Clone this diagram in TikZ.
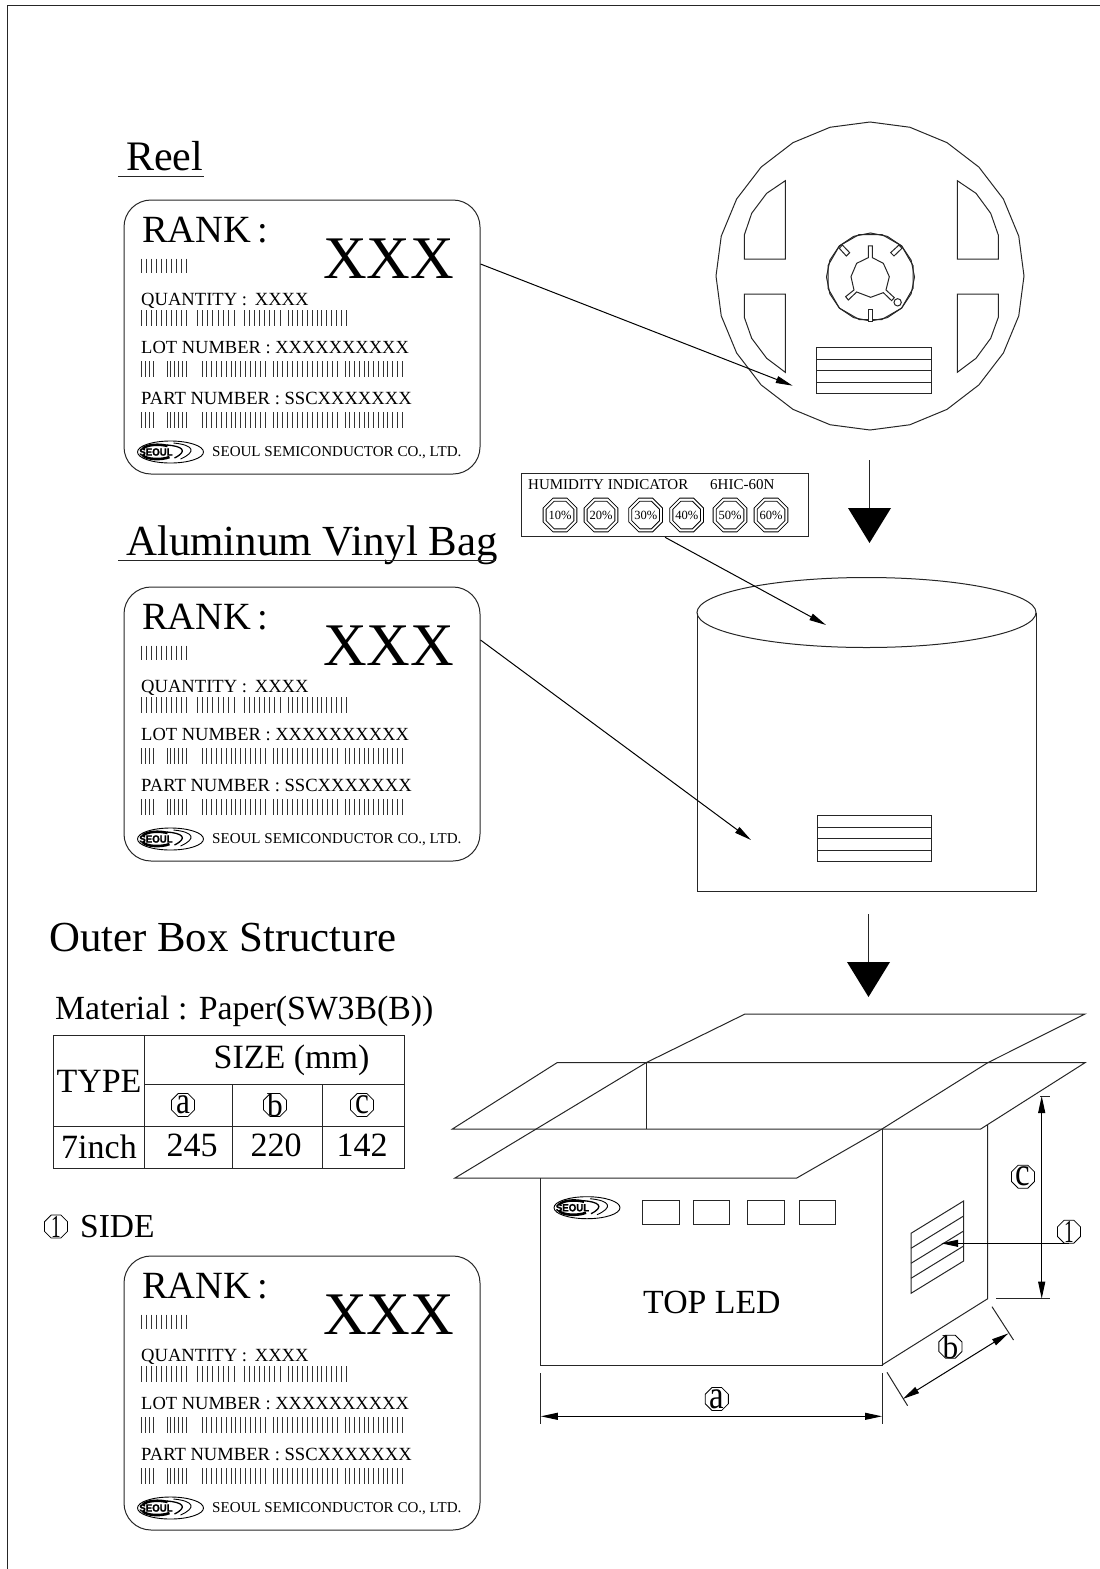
\documentclass[tikz,border=0pt]{standalone}
\usepackage{fontspec}
\usepackage{graphicx}
\setmainfont{Liberation Serif}
\newfontfamily\logofont[FakeBold=1.5]{Liberation Sans Bold}
\usetikzlibrary{arrows.meta,shapes.geometric}
\newcommand{\fsz}[1]{\fontsize{#1pt}{#1pt}\selectfont}
\tikzset{
  ln/.style={line width=1pt,black!85},
  txt/.style={inner sep=0pt,anchor=base west,text=black},
  ctxt/.style={inner sep=0pt,anchor=base,text=black},
  arr/.style={line width=1pt,-{Stealth[length=17pt,width=7pt,inset=0pt]}},
  arrb/.style={line width=1pt,{Stealth[length=17pt,width=7pt,inset=0pt]}-{Stealth[length=17pt,width=7pt,inset=0pt]}},
  oct/.style={draw,line width=0.8pt,regular polygon,regular polygon sides=8,minimum size=#1,inner sep=0pt},
  cardbox/.style={draw,line width=1pt,black!85,rectangle,rounded corners=27pt,minimum width=356pt,minimum height=274pt,inner sep=0pt},
  bar/.style={line width=1pt,black!80},
}
\newcommand{\barsgroup}[5]{%
  \pgfmathsetmacro{\bstep}{(#2-#1)/(#3-1)}%
  \foreach \bi in {1,...,#3}{\draw[bar] ({#1+(\bi-1)*\bstep},#4) -- ({#1+(\bi-1)*\bstep},#5);}%
}
\newcommand{\seoullogo}[2]{%
  \begin{scope}[shift={(#1,#2)}]
    \draw[line width=0.9pt] (0,0) ellipse (33 and 11);
    \draw[line width=1.3pt] (-4,-7) .. controls (12,-6) and (18,-1) .. (4,6);
    \draw[line width=0.9pt] (3,-9) .. controls (24,-7) and (26,0) .. (10,7);
    \draw[line width=2.6pt] (-28,-3) .. controls (-24,-8) and (-10,-8) .. (-3,-6);
    \draw[line width=2.6pt] (-28,3) .. controls (-24,8) and (-8,8) .. (-1,5);
    \node[inner sep=0pt] at (-14.5,0) {\logofont\fsz{10.5}\scalebox{0.92}[1]{SEOUL}};
  \end{scope}%
}
\newcommand{\labelcard}[2]{%
  \begin{scope}[yshift=-#2pt]
    \node[cardbox] (#1) at (302,337) {};
    \node[txt] (#1rank) at (142,242) {\fsz{38.5}RANK\hspace{-3pt} :};
    \node[txt] (#1xxx) at (323,278) {\fsz{60.5}XXX};
    \node[txt] (#1qty) at (141,305) {\fsz{18.6}QUANTITY :\, XXXX};
    \node[txt] (#1lot) at (141,353) {\fsz{18.5}LOT NUMBER : XXXXXXXXXX};
    \node[txt] (#1part) at (141,404.5) {\fsz{18.6}PART NUMBER : SSCXXXXXXX};
    \node[txt] (#1co) at (212,456.5) {\fsz{15.05}SEOUL SEMICONDUCTOR CO., LTD.};
    \barsgroup{141}{186}{10}{258.5}{273}
    \barsgroup{141}{186}{10}{310}{326}
    \barsgroup{197}{234}{8}{310}{326}
    \barsgroup{244}{280}{8}{310}{326}
    \barsgroup{288}{346}{13}{310}{326}
    \foreach \yy/\yz in {361/377,412/428}{
      \barsgroup{141}{153}{4}{\yy}{\yz}
      \barsgroup{167}{186}{6}{\yy}{\yz}
      \barsgroup{202}{265}{14}{\yy}{\yz}
      \barsgroup{273}{337}{14}{\yy}{\yz}
      \barsgroup{345}{402}{13}{\yy}{\yz}
    }
    \seoullogo{170.5}{452}
  \end{scope}%
}
% name, x, y, polygon size, text size, xscale, content
\newcommand{\circled}[7]{%
  \node[oct=#4pt] (#1) at (#2,#3) {};
  \node[inner sep=0pt] (#1t) at (#2,#3) {\fsz{#5}\scalebox{#6}[1]{#7}};
}
\begin{document}
\begin{tikzpicture}[x=1pt,y=-1pt,line join=miter]
\useasboundingbox (0,0) rectangle (1100,1569);
\draw[ln,line width=1.3pt] (7.5,1569) -- (7.5,5.5) -- (1100,5.5);

% titles
\node[txt] (treel) at (126,170) {\fsz{42}Reel};
\draw[ln] (118,176) -- (204,176);
\node[txt] (tbag) at (126,555) {\fsz{42.9}Aluminum Vinyl Bag};
\draw[ln] (118,560.5) -- (496,560.5);
\node[txt] (tbox) at (49,951) {\fsz{42.8}Outer Box Structure};
\node[txt] (tmat) at (55,1019) {\fsz{33.8}Material : Paper(SW3B(B))};

% cards
\labelcard{cardA}{0}
\labelcard{cardB}{387}
\labelcard{cardC}{1056}

% reel
\draw[ln] plot[samples at={0,15,...,345}] ({870+154*cos(\x)},{276+154*sin(\x)}) -- cycle;
\draw[ln] (785.3,180.7) -- (785.3,259) -- (744.3,259) -- (744.3,235) -- (751.7,213.3) -- (766.7,193.3) -- cycle;
\draw[ln] (785.3,372.3) -- (785.3,294) -- (744.3,294) -- (744.3,317.3) -- (751.7,338.3) -- (766.7,358.3) -- cycle;
\draw[ln] (957.3,180.7) -- (957.3,259) -- (998.3,259) -- (998.3,235) -- (990.7,213.3) -- (976,193.3) -- cycle;
\draw[ln] (957.3,372.3) -- (957.3,294) -- (998.3,294) -- (998.3,317.3) -- (990.7,338.3) -- (976,358.3) -- cycle;
% hub
\draw[ln] plot[samples at={0,22.5,...,337.5}] ({870.5+44*cos(\x)},{277+44*sin(\x)}) -- cycle;
\draw[ln] plot[samples at={15,45,...,345}] ({870.5+44*cos(\x)},{277+44*sin(\x)}) -- cycle;
\begin{scope}[shift={(700,110)},x=0.3333pt,y=-0.3333pt]
\draw[ln,fill=white] (418,415) -- (427,405) -- (449,428) -- (439,438) -- cycle;
\draw[ln,fill=white] (572,428) -- (597,405) -- (606,415) -- (582,438) -- cycle;
\draw[ln,fill=white] (505,598) -- (517,598) -- (517,635) -- (505,635) -- cycle;
\draw[ln] (505,408) -- (517,408) -- (517,443) -- (550,460) -- (568,500) -- (558,540) -- (583,563) -- (575,572) -- (550,548) -- (512,562) -- (470,546) -- (445,570) -- (437,560) -- (462,540) -- (453,500) -- (470,460) -- (505,443) -- cycle;
\draw[ln,fill=white] (593,577) circle (11);
\end{scope}
% reel label
\draw[ln] (816.7,347.7) rectangle (931.7,393.3);
\foreach \yy in {359,370.7,382.7}{\draw[ln] (816.7,\yy) -- (931.7,\yy);}
\coordinate (reeltip) at (792.7,385.7);
\draw[arr] (cardA.east |- 0,264) -- (reeltip);

% arrows down
\coordinate (d1a) at (869,460); \coordinate (d1b) at (869,510);
\draw[ln] (d1a) -- (d1b);
\fill (848,508) -- (891,508) -- (869.5,543) -- cycle;
\coordinate (d2a) at (868,914); \coordinate (d2b) at (868,964);
\draw[ln] (d2a) -- (d2b);
\fill (847,962) -- (890,962) -- (868.5,997) -- cycle;

% humidity
\node[draw,line width=1pt,black!85,minimum width=286.5pt,minimum height=63.5pt,inner sep=0pt] (hum) at (665,505) {};
\node[txt] (humt) at (528,489) {\fsz{15}HUMIDITY INDICATOR};
\node[txt] (humc) at (710,489) {\fsz{15}6HIC-60N};
\foreach \xx/\pp in {560/10,601/20,645.7/30,686.7/40,730/50,771/60}{
  \node[oct=36.5pt] (hoA\pp) at (\xx,515) {};
  \node[oct=30pt] (hoB\pp) at (\xx,515) {};
  \node[inner sep=0pt] (hoT\pp) at (\xx,515) {\fsz{12.5}\pp\%};
}
% drum
\draw[ln] (697,612.5) -- (697,891) -- (1036,891) -- (1036,612.5);
\draw[ln] (866.5,612.5) ellipse (169.5 and 35);
\draw[ln] (817,815) rectangle (931,861);
\foreach \yy in {827,838,850}{\draw[ln] (817,\yy) -- (931,\yy);}
\coordinate (humtip) at (826,625);
\coordinate (bagtip) at (751,840);
\draw[arr] (hum.south -| 665,0) -- (humtip);
\draw[arr] (cardB.east |- 0,640) -- (bagtip);

% table
\draw[ln] (53,1035) rectangle (404,1168);
\draw[ln] (144,1035) -- (144,1168);
\draw[ln] (144,1084) -- (404,1084);
\draw[ln] (53,1126.7) -- (404,1126.7);
\draw[ln] (232.7,1084) -- (232.7,1168) (322,1084) -- (322,1168);
\node[ctxt] (ttype) at (99,1092) {\fsz{34}TYPE};
\node[ctxt] (tsize) at (291.5,1068) {\fsz{34}SIZE (mm)};
\node[ctxt] (t7) at (99,1158) {\fsz{34}7inch};
\node[ctxt] (t245) at (192,1156) {\fsz{34}245};
\node[ctxt] (t220) at (276,1156) {\fsz{34}220};
\node[ctxt] (t142) at (362,1156) {\fsz{34}142};
\circled{ta}{183}{1105}{25}{38}{0.82}{a}
\circled{tb}{275}{1105}{25}{33}{0.95}{b}
\circled{tc}{362}{1105}{25}{38}{0.82}{c}

% side
\circled{s1}{56}{1226.5}{25}{32}{0.6}{1}
\node[txt] (tside) at (80,1237) {\fsz{33.5}SIDE};

% box
\draw[ln] (455,1178) -- (646,1062.7) -- (745,1014) -- (1085,1014) -- (987.7,1062.7) -- (882,1129) -- (796.8,1178) -- cycle;
\draw[ln] (452.4,1129) -- (557,1062.7) -- (1085,1062.7) -- (980.7,1129) -- cycle;
\draw[ln] (646,1062.7) -- (646,1129);
\draw[ln] (540.8,1178) -- (540.8,1365) -- (882,1365) -- (882,1129);
\draw[ln] (987.7,1125) -- (987.7,1298.7) -- (882,1365);
\seoullogo{587}{1207.7}
\draw[ln] (642.5,1200) rectangle (679.8,1224.3);
\draw[ln] (693,1200) rectangle (729.6,1224.3);
\draw[ln] (747.9,1200) rectangle (784.4,1224.3);
\draw[ln] (799,1200) rectangle (835.4,1224.3);
\node[txt] (tled) at (643,1313) {\fsz{33.8}TOP LED};
% side label
\draw[ln] (911,1233.3) -- (963.6,1201) -- (963.6,1261) -- (911,1293.3) -- cycle;
\draw[ln] (911,1248.3) -- (963.6,1216) (911,1263.3) -- (963.6,1231) (911,1278.3) -- (963.6,1246);
% dims
\circled{b1}{1069}{1231.7}{25}{32}{0.6}{1}
\coordinate (b1tip) at (941.2,1243.3);
\draw[arr] (b1 |- b1tip) -- (b1tip);
\draw[ln] (1040.4,1096) -- (1050,1096) (996,1298.7) -- (1050,1298.7);
\coordinate (cA) at (1041.7,1096); \coordinate (cB) at (1041.7,1298.7);
\draw[arrb] (cA) -- (cB);
\circled{bc}{1023}{1176.7}{25}{40}{0.82}{c}
\draw[ln] (887,1372.3) -- (907.6,1405.7) (992,1306.7) -- (1013.5,1340);
\coordinate (bA) at (902.7,1399); \coordinate (bB) at (1008.5,1333.3);
\draw[arrb] (bA) -- (bB);
\circled{bb}{950.4}{1346.7}{25}{33}{0.95}{b}
\draw[ln] (540.8,1373.3) -- (540.8,1424.3) (882,1373.3) -- (882,1424.3);
\coordinate (aA) at (540.8,1416.3); \coordinate (aB) at (882,1416.3);
\draw[arrb] (aA) -- (aB);
\circled{ba}{716.8}{1399}{25}{40}{0.82}{a}
\end{tikzpicture}
\end{document}
